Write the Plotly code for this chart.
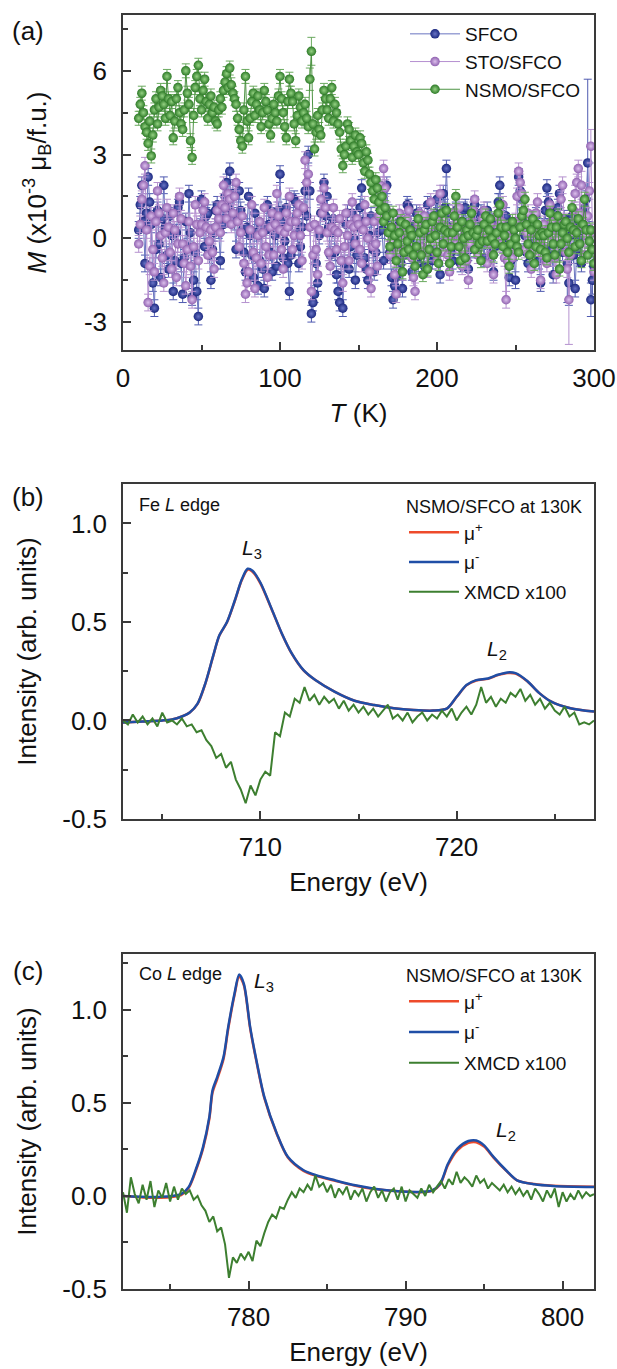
import plotly.graph_objects as go

# ---------------- Panel (a): M(T) ----------------
T = list(range(10, 301))  # measurement temperatures (K), 1 K steps

sfco = [0.3, 1.2, 1.9, 0.6, -0.9, 0.9, 2.2, 1.3, 0.5, -1.6,
        -2.5, -0.4, 1.0, -0.2, -1.4, 0.7, 1.9, 0.4, -0.6, -1.1,
        0.8, 0.1, -1.9, -0.8, 0.2, 1.1, 1.3, -0.9, -2.0, -0.7,
        0.6, -0.3, 1.6, 0.2, -2.1, -1.5, -0.5, -1.9, -2.8, 0.4,
        1.4, 0.5, -0.3, 0.8, 0.9, -0.6, -1.5, -0.4, 0.2, 1.0,
        1.2, 0.3, -0.8, 0.9, 0.5, 1.5, 2.0, 1.1, 2.4, 0.7,
        1.6, 0.6, -0.4, 0.8, 1.7, 1.0, 0.3, -0.5, -1.2, 0.4,
        1.5, 0.1, -0.6, -1.4, 0.9, 0.2, -1.7, -0.8, 0.4, -1.1,
        -1.8, 0.3, 1.2, 0.5, -0.5, -1.2, 0.8, 0.1, -1.0, 1.0,
        2.3, 0.6, -0.7, -0.1, 1.1, -0.9, -1.9, -0.6, 0.6, 1.4,
        1.3, 0.2, -0.9, -0.3, 0.4, 1.0, 1.7, 0.8, 3.0, 1.7,
        -2.7, -2.3, -2.0, -0.9, -1.6, 0.1, 0.9, 1.4, 2.0, 0.8,
        1.5, 0.4, -0.6, 0.2, 0.7, -0.5, -1.3, -1.9, -2.3, -0.8,
        -2.5, -0.9, 0.5, 0.9, -1.1, -0.3, 0.9, 0.0, -1.5, -0.6,
        0.4, 1.1, 1.8, 0.6, -0.7, -1.1, -1.5, 0.1, 0.8, -0.4,
        -1.2, -0.5, 0.2, 1.3, 1.0, 0.3, -0.8, 0.7, 1.9, 0.9,
        -0.5, -1.4, -2.2, -1.7, -1.4, -0.3, 0.6, -0.9, -1.8, -0.6,
        0.3, 1.2, 1.1, 0.0, -1.2, -0.4, 0.5, 0.9, -0.9, 0.2,
        0.8, 0.1, -1.0, 0.4, 1.2, 0.6, 0.2, -0.8, -0.6, 0.9,
        1.4, 0.3, -1.3, 0.5, 1.6, 1.1, 2.5, 0.9, 0.4, -0.5,
        -0.8, 0.3, 1.0, 0.4, -0.3, -0.9, 0.6, 1.0, 1.1, 0.1,
        -1.1, -0.4, 0.2, 0.7, 1.2, 0.5, -0.4, 0.3, 0.9, 0.0,
        -0.7, 0.2, 1.0, 0.6, 0.3, -0.5, -1.2, -0.3, 0.5, 1.3,
        1.9, 0.7, -0.2, 0.5, 0.8, -0.6, -1.4, -0.8, 0.1, -0.5,
        -1.5, 0.4, 2.2, 1.7, 1.4, 0.6, 0.1, -0.5, -0.9, 0.2,
        0.6, 0.0, -0.4, 0.8, 0.3, -0.8, -1.6, -0.3, 0.4, 1.0,
        1.8, 1.3, 1.0, -0.4, -1.3, -0.2, 0.4, 1.1, 1.6, 0.5,
        -0.5, 0.7, 0.2, -0.9, -1.6, 0.1, 0.8, -0.6, -1.8, -0.4,
        0.6, 0.0, -0.9, 0.5, 1.1, 1.4, 2.7, 0.3, -2.2, -1.5,
        -1.0]
sfco_err_base = 0.3
sfco_err_big = {283: 1.4, 284: 0.8, 291: 1.0, 296: 3.0, 298: 0.6, 299: 0.5}

sto_sfco = [-0.2, 0.5, 1.4, 1.9, 2.6, 0.3, -2.3, -1.0, 0.8, -0.4,
            -1.2, 0.6, 1.7, 0.9, 0.1, -0.7, -1.6, 0.2, 1.1, 0.4,
            -0.5, -1.1, 0.9, 0.3, -1.4, -0.2, 1.5, 0.7, -0.2, -0.9,
            -1.7, -0.4, 0.6, -1.0, -2.2, -0.3, 1.2, 0.5, -0.8, 0.2,
            0.5, 1.0, 1.3, 0.4, -0.6, -0.1, 0.3, -0.5, -1.1, 0.4,
            1.0, 0.7, 0.2, 1.2, 1.9, 1.1, 0.7, 1.6, 1.4, 0.5,
            0.9, 1.5, 2.0, 0.6, -0.3, 0.2, 0.8, -0.9, -2.0, -1.6,
            -1.2, 0.3, 1.2, -0.5, -1.8, -0.7, 0.1, 0.6, -0.9, 0.2,
            1.1, -0.3, -1.4, -0.6, 0.4, 0.9, -0.6, 0.5, 1.6, 0.8,
            0.3, -0.4, -1.1, 0.2, 0.9, 0.4, 1.5, 0.6, -0.4, 0.1,
            0.6, 0.9, 1.2, 0.1, -0.8, 1.1, 2.8, 2.0, 2.3, 0.4,
            -1.9, -0.6, 0.5, -0.4, -1.3, 0.3, 1.4, 0.9, 1.8, 1.1,
            0.2, -0.5, -1.0, 0.4, 1.1, 0.3, -0.4, 0.2, 0.7, -0.8,
            -1.6, -0.3, 0.9, 0.1, -0.8, 0.5, 1.3, 0.4, -0.2, 0.7,
            0.5, -0.4, -0.9, 0.3, 1.2, 0.6, 0.0, -1.2, -1.8, -0.3,
            0.6, -0.2, -1.0, 0.8, 1.9, 1.4, 2.5, 1.8, 1.0, 0.2,
            -0.6, -0.1, 0.4, -1.3, -2.0, -0.5, 0.9, 0.1, -1.2, -0.4,
            0.2, 0.7, 1.0, 0.3, -0.7, -1.4, -1.9, -0.6, 0.5, 0.9,
            -0.3, 0.2, 0.8, -0.4, -1.1, 0.4, 1.3, 0.7, 0.1, -0.5,
            -0.8, 0.6, 1.6, 0.5, -0.5, -0.1, 0.4, -0.6, -1.2, 0.1,
            0.9, 0.4, -0.2, 0.6, 1.1, 0.0, -1.0, -0.4, 0.3, -0.8,
            -1.5, -0.2, 0.6, 1.0, 1.4, 0.3, -0.6, -0.1, 0.2, 0.7,
            1.0, 0.2, -0.9, -0.2, 0.5, -0.6, -1.3, 0.1, 0.8, 0.4,
            -0.2, 0.6, 1.2, -0.7, -2.2, -0.8, 0.3, 0.0, -0.7, -0.2,
            0.6, 1.5, 2.4, 2.0, 1.6, 0.5, -0.4, 0.2, 0.9, -0.3,
            -1.1, -0.5, 0.2, 0.9, 1.3, -0.2, -1.5, -0.6, 0.5, 0.1,
            -0.9, 0.3, 1.2, 0.6, 0.1, -0.7, -1.3, 0.0, 0.7, 1.4,
            1.9, 0.6, -0.5, -1.1, -2.2, -0.6, 0.4, 1.0, 1.6, 2.0,
            2.5, 0.9, 1.9, 0.4, -0.6, 0.1, 0.8, 1.7, 3.3, 0.2,
            -1.2]
sto_sfco_err_base = 0.3
sto_sfco_err_big = {284: 1.6, 292: 0.5, 298: 0.6}

nsmo_sfco = [4.3, 4.8, 5.2, 4.5, 4.0, 3.8, 3.4, 4.2, 2.95, 3.7,
             4.6, 5.0, 4.1, 4.7, 5.3, 5.1, 4.8, 4.3, 5.8, 5.0,
             4.4, 4.9, 3.6, 4.2, 5.0, 5.4, 4.5, 4.1, 3.9, 4.6,
             6.0, 5.2, 4.8, 3.5, 2.9, 4.4, 5.4, 5.8, 6.2, 5.0,
             4.6, 5.3, 5.7, 4.9, 4.3, 4.8, 5.1, 4.5, 4.7, 4.2,
             4.1, 4.6, 5.0, 4.7, 5.3, 5.6, 5.9, 5.4, 6.1, 5.5,
             5.2, 5.0, 4.8, 4.3, 3.9, 3.5, 3.3, 4.6, 5.8, 4.2,
             3.6, 4.3, 4.9, 5.2, 4.4, 4.8, 5.1, 4.6, 4.0, 4.5,
             5.3, 4.9, 4.6, 4.1, 3.7, 4.3, 4.8, 4.5, 4.2, 5.1,
             5.8, 5.0, 4.5, 4.0, 3.6, 4.9, 5.7, 5.2, 4.9, 4.1,
             3.5, 4.4, 5.1, 4.7, 4.2, 4.5, 4.8, 4.3, 4.0, 5.7,
             6.7, 4.1, 3.2, 3.8, 4.4, 3.9, 3.7, 4.6, 5.3, 5.0,
             4.6, 4.3, 5.0, 5.4, 4.2, 4.8, 4.5, 4.1, 3.8, 3.2,
             2.6, 3.0, 3.3, 4.1, 3.9, 3.5, 2.9, 3.3, 3.7, 3.1,
             3.0, 3.6, 3.4, 2.7, 2.4, 3.1, 2.8, 2.3, 2.0, 1.7,
             1.4, 2.1, 1.8, 1.3, 1.0, 1.5, 0.6, 1.1, 0.8, 0.2,
             -0.3, 0.4, 0.9, 0.1, -0.8, -0.2, 0.2, 0.6, -1.2, -0.5,
             0.5, -0.1, -0.4, 0.3, 0.1, -0.6, -1.0, -0.3, 0.7, 0.2,
             -0.6, -1.3, 0.3, 0.5, -1.1, -0.4, 0.0, 0.6, 0.8, 0.1,
             -0.5, -0.9, 0.4, 0.9, -0.2, 0.3, 1.0, 0.2, -0.9, -0.3,
             0.2, 0.8, 1.5, 0.4, -0.3, -0.8, 0.6, 0.0, -0.7, 0.3,
             0.1, 0.5, 0.9, 0.2, -0.4, 0.1, 0.3, -0.2, -0.8, -0.1,
             0.5, 0.8, -0.1, 0.3, 0.7, 0.0, -0.6, -0.2, 0.2, 0.9,
             1.2, 0.4, -0.3, 0.1, 0.4, -0.5, -1.0, -0.2, 0.6, 0.3,
             0.0, -0.3, -0.5, 0.4, 0.8, 1.0, 1.4, 0.5, -0.2, -0.6,
             0.3, 0.7, -0.9, -0.3, 0.5, 0.1, -0.4, 0.2, 0.1, -0.5,
             -0.7, 0.2, 0.9, 0.4, -0.2, -0.6, 0.4, 0.8, -1.1, -0.2,
             0.2, 0.5, 0.6, 0.0, -0.5, 0.4, 1.1, 0.3, -0.3, 0.2,
             0.7, -0.2, -0.8, 0.5, 1.4, 0.3, -0.6, -0.1, 0.3, -0.4,
             -0.9]
nsmo_sfco_err_base = 0.25
nsmo_sfco_err_big = {119: 0.4, 120: 0.5}

sfco_err = [sfco_err_big.get(t, sfco_err_base) for t in T]
sto_sfco_err = [sto_sfco_err_big.get(t, sto_sfco_err_base) for t in T]
nsmo_sfco_err = [nsmo_sfco_err_big.get(t, nsmo_sfco_err_base) for t in T]

# ---------------- Panel (b): Fe L edge ----------------
fe_mu_E = [703, 704, 705, 705.5, 706, 706.4, 706.8, 707.2, 707.6, 707.9,
           708.3, 708.7, 709.05, 709.35, 709.6, 710, 710.6, 711.1, 711.6, 712.2,
           712.8, 713.8, 714.8, 715.8, 716.8, 717.8, 718.8, 719.5, 720, 720.5,
           721.0, 721.6, 722.1, 722.6, 723.0, 723.6, 724.2, 724.8, 725.8, 727]
fe_mu_minus = [-0.01, -0.005, 0.0, 0.005, 0.02, 0.04, 0.085, 0.19, 0.33, 0.43,
               0.50, 0.61, 0.715, 0.77, 0.76, 0.70, 0.56, 0.44, 0.34, 0.255,
               0.205, 0.145, 0.10, 0.078, 0.062, 0.053, 0.05, 0.06, 0.12, 0.18,
               0.205, 0.213, 0.232, 0.244, 0.24, 0.20, 0.14, 0.097, 0.062, 0.045]
fe_mu_plus = [-0.01, -0.005, 0.0, 0.005, 0.02, 0.04, 0.084, 0.188, 0.328, 0.428,
              0.498, 0.607, 0.711, 0.765, 0.755, 0.696, 0.558, 0.439, 0.339, 0.254,
              0.205, 0.145, 0.10, 0.078, 0.062, 0.053, 0.05, 0.06, 0.119, 0.178,
              0.203, 0.211, 0.23, 0.241, 0.238, 0.199, 0.14, 0.097, 0.062, 0.045]
fe_xmcd_E_start, fe_xmcd_E_step = 703.0, 0.25
fe_xmcd = [0.00, -0.02, 0.03, -0.01,
           0.02, -0.02, 0.01, -0.03,
           0.04, -0.01, 0.00, -0.02,
           0.01, -0.03, -0.02, -0.06,
           -0.05, -0.10, -0.13, -0.19,
           -0.17, -0.24, -0.21, -0.30,
           -0.35, -0.42, -0.33, -0.38,
           -0.30, -0.26, -0.28, -0.06,
           -0.08, 0.04, 0.02, 0.11,
           0.09, 0.17, 0.10, 0.13,
           0.08, 0.12, 0.09, 0.11,
           0.06, 0.10, 0.05, 0.08,
           0.04, 0.07, 0.03, 0.06,
           0.02, 0.05, 0.08, 0.01,
           0.03, 0.00, 0.04, -0.01,
           0.02, 0.04, 0.00, 0.03,
           0.01, 0.05, 0.02, 0.06,
           0.00, 0.04, 0.07, 0.03,
           0.08, 0.17, 0.09, 0.12,
           0.07, 0.11, 0.09, 0.14,
           0.12, 0.16, 0.10, 0.13,
           0.08, 0.11, 0.06, 0.09,
           0.05, 0.03, 0.07, 0.02,
           0.04, -0.02, -0.01, -0.02,
           0.00]
fe_xmcd_E = [round(fe_xmcd_E_start + i * fe_xmcd_E_step, 2) for i in range(len(fe_xmcd))]

# ---------------- Panel (c): Co L edge ----------------
co_mu_E = [772, 774.3, 775.7, 776.2, 776.7, 777.1, 777.5, 777.7, 778.0, 778.4,
           778.7, 779.1, 779.4, 779.7, 780.1, 780.5, 781.0, 781.8, 782.5, 783.5,
           784.3, 785.5, 786.8, 788.0, 789.3, 790.8, 791.7, 792.2, 792.7, 793.3,
           794.0, 794.5, 795.0, 795.6, 796.4, 797.1, 798.2, 799.4, 802]
co_mu_minus = [0.0, -0.005, 0.01, 0.05, 0.157, 0.264, 0.425, 0.567, 0.639, 0.746,
               0.907, 1.086, 1.19, 1.14, 0.907, 0.728, 0.532, 0.335, 0.21, 0.138,
               0.111, 0.084, 0.057, 0.039, 0.027, 0.021, 0.03, 0.066, 0.173, 0.254,
               0.295, 0.298, 0.272, 0.21, 0.138, 0.084, 0.063, 0.054, 0.048]
co_mu_plus = [0.0, -0.01, 0.005, 0.045, 0.15, 0.255, 0.415, 0.555, 0.628, 0.735,
              0.897, 1.078, 1.18, 1.132, 0.9, 0.722, 0.527, 0.332, 0.207, 0.135,
              0.108, 0.081, 0.055, 0.037, 0.026, 0.02, 0.028, 0.062, 0.166, 0.245,
              0.285, 0.289, 0.265, 0.206, 0.136, 0.084, 0.064, 0.055, 0.05]
co_xmcd_E_start, co_xmcd_E_step = 772.0, 0.25
co_xmcd = [0.02, -0.09, 0.10, 0.01,
           -0.04, 0.06, -0.02, 0.08,
           -0.06, 0.03, -0.01, 0.07,
           -0.03, 0.05, -0.02, 0.04,
           0.01, 0.03, -0.02, 0.00,
           -0.05, -0.08, -0.14, -0.11,
           -0.19, -0.17, -0.26, -0.44,
           -0.33, -0.36, -0.31, -0.34,
           -0.30, -0.35, -0.24, -0.27,
           -0.20, -0.14, -0.10, -0.12,
           -0.06, -0.07, -0.02, 0.02,
           -0.01, 0.04, 0.02, 0.06,
           0.03, 0.11, 0.05, 0.07,
           0.02, 0.06, -0.01, 0.04,
           0.01, 0.05, -0.02, 0.03,
           0.00, 0.04, -0.03, 0.02,
           0.05, -0.01, 0.03, -0.03,
           0.02, 0.04, -0.02, 0.05,
           -0.03, 0.03, 0.01, -0.01,
           0.04, 0.00, 0.06, 0.02,
           0.05, 0.08, 0.04, 0.09,
           0.06, 0.13, 0.07, 0.10,
           0.08, 0.05, 0.11, 0.07,
           0.09, 0.04, 0.07, 0.05,
           0.03, 0.06, 0.02, 0.05,
           0.01, 0.04, 0.00, 0.03,
           -0.02, 0.04, 0.01, -0.03,
           0.03, -0.01, 0.04, -0.06,
           0.02, -0.03, 0.01, -0.02,
           0.03, -0.01, 0.02, 0.00,
           0.01]
co_xmcd_E = [round(co_xmcd_E_start + i * co_xmcd_E_step, 2) for i in range(len(co_xmcd))]

# ---------------- Styling ----------------
FONT = "Liberation Sans, Arial, Helvetica, sans-serif"
W, H = 617, 1369
X_DOM = [123 / W, 594 / W]
A_DOM = [1 - 350 / H, 1 - 15 / H]
B_DOM = [1 - 819 / H, 1 - 484 / H]
C_DOM = [1 - 1289 / H, 1 - 954 / H]

fig = go.Figure()

series_a = [
    ("SFCO", sfco, sfco_err, "#1b2880", "#6873c4", "#4f5ab0", "#6a74c0"),
    ("STO/SFCO", sto_sfco, sto_sfco_err, "#9062b0", "#dcbfec", "#b592cf", "#b58fd0"),
    ("NSMO/SFCO", nsmo_sfco, nsmo_sfco_err, "#2d7a27", "#95d283", "#6aa95e", "#4e9444"),
]
for name, vals, err, col, ctr, ecol, lcol in series_a:
    fig.add_trace(go.Scatter(
        x=T, y=vals, name=name, mode="lines+markers",
        xaxis="x", yaxis="y", legend="legend", legendgroup=name,
        line=dict(color=lcol, width=1),
        marker=dict(size=9.5, color=col, gradient=dict(type="radial", color=ctr),
                    line=dict(width=0)),
        error_y=dict(type="data", array=err, color=ecol, thickness=1, width=4),
    ))

RED, BLUE, GREEN = "#ee4b2b", "#1f4ea6", "#3d7f30"
for (xa, ya, lg, muE, mup, mum, xE, xv) in [
    ("x2", "y2", "legend2", fe_mu_E, fe_mu_plus, fe_mu_minus, fe_xmcd_E, fe_xmcd),
    ("x3", "y3", "legend3", co_mu_E, co_mu_plus, co_mu_minus, co_xmcd_E, co_xmcd),
]:
    fig.add_trace(go.Scatter(x=muE, y=mup, name="μ<sup>+</sup>", mode="lines",
                             xaxis=xa, yaxis=ya, legend=lg, legendgroup=lg + "p",
                             line=dict(color=RED, width=2.5, shape="spline", smoothing=0.8)))
    fig.add_trace(go.Scatter(x=muE, y=mum, name="μ<sup>-</sup>", mode="lines",
                             xaxis=xa, yaxis=ya, legend=lg, legendgroup=lg + "m",
                             line=dict(color=BLUE, width=2.5, shape="spline", smoothing=0.8)))
    fig.add_trace(go.Scatter(x=xE, y=xv, name="XMCD x100", mode="lines",
                             xaxis=xa, yaxis=ya, legend=lg, legendgroup=lg + "x",
                             line=dict(color=GREEN, width=2)))


def axis(rng, domain, anchor, dtick, tick0, minor_dtick, tickvals=None, ticktext=None,
         title=None, standoff=10, labelgap=4):
    d = dict(range=rng, domain=domain, anchor=anchor, automargin=False,
             showline=True, linecolor="#3a3a3a",
             linewidth=1.5, mirror=True, ticks="inside", ticklen=8, tickwidth=1.5,
             tickcolor="#3a3a3a", showgrid=False, zeroline=False,
             tickfont=dict(size=26, color="#111", family=FONT),
             minor=dict(ticks="inside", ticklen=5, tickwidth=1.5, tickcolor="#3a3a3a",
                        dtick=minor_dtick, tick0=tick0, showgrid=False),
             ticklabelstandoff=labelgap)
    if tickvals is not None:
        d.update(tickmode="array", tickvals=tickvals, ticktext=ticktext)
    else:
        d.update(tickmode="linear", dtick=dtick, tick0=tick0)
    if title:
        d["title"] = dict(text=title, font=dict(size=26, color="#111", family=FONT),
                          standoff=standoff)
    return d


fig.update_layout(
    width=W, height=H, margin=dict(l=0, r=0, t=0, b=0, autoexpand=False),
    paper_bgcolor="white", plot_bgcolor="white",
    font=dict(family=FONT, color="#111"),
    xaxis=axis([0, 300], X_DOM, "y", 100, 0, 50, title="<i>T</i> (K)", standoff=12,
               labelgap=4),
    yaxis=axis([-4, 8], A_DOM, "x", 3, 0, 1.5, tickvals=[-3, 0, 3, 6],
               ticktext=["-3", "0", "3", "6"],
               title="<i>M</i> (x10<sup>-3</sup> μ<sub>B</sub>/f.u.)", standoff=30,
               labelgap=9),
    xaxis2=axis([703, 727], X_DOM, "y2", 10, 700, 5, title="Energy (eV)", standoff=12,
                labelgap=4),
    yaxis2=axis([-0.5, 1.2], B_DOM, "x2", 0.5, 0, 0.25, tickvals=[-0.5, 0, 0.5, 1.0],
                ticktext=["-0.5", "0.0", "0.5", "1.0"],
                title="Intensity (arb. units)", standoff=18, labelgap=9),
    xaxis3=axis([772, 802], X_DOM, "y3", 10, 780, 5, title="Energy (eV)", standoff=12,
                labelgap=4),
    yaxis3=axis([-0.5, 1.3], C_DOM, "x3", 0.5, 0, 0.25, tickvals=[-0.5, 0, 0.5, 1.0],
                ticktext=["-0.5", "0.0", "0.5", "1.0"],
                title="Intensity (arb. units)", standoff=18, labelgap=9),
    legend=dict(x=405 / W, y=1 - 15 / H, xanchor="left", yanchor="top",
                bgcolor="rgba(0,0,0,0)", font=dict(size=19, color="#111", family=FONT),
                itemwidth=50, tracegroupgap=0),
    legend2=dict(x=404 / W, y=1 - 490 / H, xanchor="left", yanchor="top",
                 bgcolor="rgba(0,0,0,0)", font=dict(size=19, color="#111", family=FONT),
                 itemwidth=50, tracegroupgap=2,
                 title=dict(text="NSMO/SFCO at 130K", font=dict(size=18, family=FONT))),
    legend3=dict(x=404 / W, y=1 - 959 / H, xanchor="left", yanchor="top",
                 bgcolor="rgba(0,0,0,0)", font=dict(size=19, color="#111", family=FONT),
                 itemwidth=50, tracegroupgap=3,
                 title=dict(text="NSMO/SFCO at 130K", font=dict(size=18, family=FONT))),
    showlegend=True,
)

for text, ypix in [("(a)", 31), ("(b)", 497), ("(c)", 971)]:
    fig.add_annotation(xref="paper", yref="paper", x=28 / W, y=1 - ypix / H, text=text,
                       showarrow=False, xanchor="center", yanchor="middle",
                       font=dict(size=26, color="#111", family=FONT))

fig.add_annotation(xref="paper", yref="paper", x=137 / W, y=1 - 505 / H, text="Fe <i>L</i> edge",
                   showarrow=False, xanchor="left", yanchor="middle",
                   font=dict(size=18, color="#111", family=FONT))
fig.add_annotation(xref="paper", yref="paper", x=137 / W, y=1 - 974 / H, text="Co <i>L</i> edge",
                   showarrow=False, xanchor="left", yanchor="middle",
                   font=dict(size=18, color="#111", family=FONT))

for xr, yr, xv, yv, t in [("x2", "y2", 709.55, 0.87, "<i>L</i><sub>3</sub>"),
                          ("x2", "y2", 722.05, 0.36, "<i>L</i><sub>2</sub>"),
                          ("x3", "y3", 781.0, 1.15, "<i>L</i><sub>3</sub>"),
                          ("x3", "y3", 796.4, 0.35, "<i>L</i><sub>2</sub>")]:
    fig.add_annotation(xref=xr, yref=yr, x=xv, y=yv, text=t, showarrow=False,
                       xanchor="center", yanchor="middle",
                       font=dict(size=21, color="#111", family=FONT))

fig.write_html(
    "out.html",
    config={"displayModeBar": False},
    post_script="document.body.style.margin='0';document.body.style.padding='0';"
                "document.body.style.overflow='hidden';",
)
